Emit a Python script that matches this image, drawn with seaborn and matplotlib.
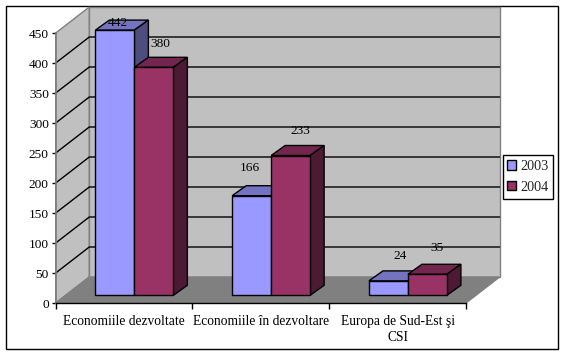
import matplotlib
matplotlib.use("Agg")
import matplotlib.pyplot as plt
import pandas as pd
import seaborn as sns
from matplotlib.patches import Polygon, Rectangle

categories = ["Economiile dezvoltate", "Economiile în dezvoltare", "Europa de Sud-Est şi\nCSI"]
years = ["2003", "2004"]
values_2003 = [442, 166, 24]
values_2004 = [380, 233, 35]
y_ticks = [0, 50, 100, 150, 200, 250, 300, 350, 400, 450]

front_colors = {"2003": "#9999FF", "2004": "#993366"}
top_colors = {"2003": "#7373BF", "2004": "#73264D"}
side_colors = {"2003": "#4D4D80", "2004": "#4D1A33"}
# pixel offsets of the value labels from each bar's top centre
label_offsets = {"2003": [(3, 7), (-2, 28), (12, 25)], "2004": [(6, 23), (10, 25), (10, 26)]}

W, H = 564, 355
sns.set_theme(style="white")
plt.rcParams["font.family"] = ["Liberation Serif", "DejaVu Serif"]
fig = plt.figure(figsize=(W / 100, H / 100), dpi=100, facecolor="white")


def axes_px(left, top, right, bottom, **kw):
    return fig.add_axes([left / W, 1 - bottom / H, (right - left) / W, (bottom - top) / H], **kw)


# pixel-space background: frame, walls, floor, gridlines
L, R, Y0, Y450 = 55.7, 466.0, 303.0, 33.0
DX, DY = 33.6, 26.0
bg = axes_px(0, 0, W, H, zorder=0)
bg.set_xlim(0, W)
bg.set_ylim(H, 0)
bg.axis("off")
bg.add_patch(Rectangle((5.5, 5.5), 552, 343.5, fc="white", ec="black", lw=1))
bg.add_patch(Polygon([(L, Y0), (L + DX, Y0 - DY), (L + DX, Y450 - DY), (L, Y450)], fc="#C0C0C0", ec="#808080", lw=1))
bg.add_patch(Rectangle((L + DX, Y450 - DY), R - L, Y0 - Y450, fc="#C0C0C0", ec="#808080", lw=1))
bg.add_patch(Polygon([(L, Y0), (L + DX, Y0 - DY), (R + DX, Y0 - DY), (R, Y0)], fc="#808080", ec="#808080", lw=1))
px_per_unit = (Y0 - Y450) / 450
for v in y_ticks[1:-1]:
    y = Y0 - v * px_per_unit
    bg.plot([L, L + DX, R + DX], [y, y - DY, y - DY], color="black", lw=1, solid_joinstyle="miter")

# front plane: axis, ticks and labels
ax = axes_px(L, Y450, R, Y0, zorder=1)
ax.patch.set_visible(False)
ax.set_xlim(-0.5, 2.5)
ax.set_ylim(0, 450)
ax.set_yticks(y_ticks)
ax.set_xticks([-0.5, 0.5, 1.5, 2.5])
ax.set_xticklabels([])
ax.tick_params(axis="y", length=3, width=1, color="black", labelsize=9.6, pad=2, labelcolor="black", left=True)
ax.tick_params(axis="x", length=4, width=1, color="black", bottom=True)
for s in ["top", "right"]:
    ax.spines[s].set_visible(False)
ax.spines["left"].set_color("#808080")
ax.spines["bottom"].set_color("black")
ax.spines["bottom"].set_linewidth(1)
for i, c in enumerate(categories):
    ax.annotate(c, (i, 0), xytext=(0, -8.5), textcoords="offset points", ha="center", va="top",
                fontsize=9.75, color="black", linespacing=1.3, annotation_clip=False)

# bar plane, set back from the front plane
BX, BY = 10.3, 7.7
ax2 = axes_px(L + BX, Y450 - BY, R + BX, Y0 - BY, zorder=2)
ax2.patch.set_visible(False)
df = pd.DataFrame({
    "category": categories * 2,
    "year": [years[0]] * 3 + [years[1]] * 3,
    "value": values_2003 + values_2004,
})
sns.barplot(data=df, x="category", y="value", hue="year", hue_order=years, order=categories,
            palette=front_colors, width=0.57, gap=0, saturation=1, errorbar=None,
            edgecolor="black", linewidth=1, ax=ax2)
ax2.set_xlim(-0.5, 2.5)
ax2.set_ylim(0, 450)
ax2.set_xticks([])
ax2.set_yticks([])
ax2.set_xlabel("")
ax2.set_ylabel("")
for s in ax2.spines.values():
    s.set_visible(False)

depth_x = 14 / ((R - L) / 3)
depth_y = 10 / px_per_unit
for j, (year, container) in enumerate(zip(years, ax2.containers)):
    z = 3 + j * 2
    for i, bar in enumerate(container.patches):
        x0, w, h = bar.get_x(), bar.get_width(), bar.get_height()
        x1 = x0 + w
        bar.set_zorder(z + 1)
        bar.set_clip_on(False)
        ax2.add_patch(Polygon([(x0, h), (x1, h), (x1 + depth_x, h + depth_y), (x0 + depth_x, h + depth_y)],
                              fc=top_colors[year], ec="black", lw=1, zorder=z, clip_on=False))
        ax2.add_patch(Polygon([(x1, 0), (x1 + depth_x, depth_y), (x1 + depth_x, h + depth_y), (x1, h)],
                              fc=side_colors[year], ec="black", lw=1, zorder=z, clip_on=False))
        ox, oy = label_offsets[year][i]
        ax2.annotate(str(int(h)), (x0 + w / 2, h), xytext=(ox * 0.72, oy * 0.72), textcoords="offset points",
                     ha="center", va="center", fontsize=9.6, color="black", zorder=20, annotation_clip=False)

leg = ax2.legend(loc="upper left", bbox_to_anchor=((502.5 - (L + BX)) / (R - L), 1 - (155.5 - (Y450 - BY)) / (Y0 - Y450)),
                 borderaxespad=0, frameon=True, fancybox=False, framealpha=1, edgecolor="black", facecolor="white",
                 fontsize=10.3, title=None, handlelength=0.6, handleheight=0.6, handletextpad=0.3,
                 labelspacing=0.55, borderpad=0.32)
leg.get_frame().set_linewidth(1)
leg.set_zorder(30)

fig.savefig("out.png", dpi=100)
